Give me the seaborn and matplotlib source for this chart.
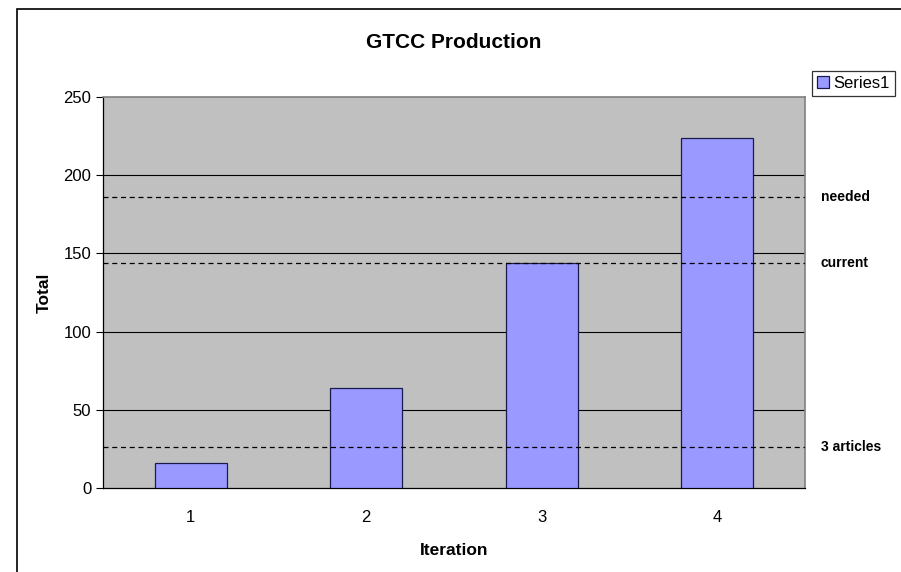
import pandas as pd
import seaborn as sns
import matplotlib.pyplot as plt
from matplotlib.patches import Rectangle

# dados
iterations = ["1", "2", "3", "4"]
totals = [16, 64, 144, 224]
ref_names = ["needed", "current", "3 articles"]
ref_values = [186, 144, 26]

df = pd.DataFrame({"Iteration": iterations, "Total": totals})

sns.set_style("white")
plt.rcParams["font.family"] = ["Liberation Sans", "DejaVu Sans"]
plt.rcParams["text.color"] = "black"
plt.rcParams["axes.labelcolor"] = "black"
plt.rcParams["xtick.color"] = "black"
plt.rcParams["ytick.color"] = "black"

fig = plt.figure(figsize=(9.01, 5.72), dpi=100)
ax = fig.add_axes([103 / 901, (572 - 488) / 572, (805 - 103) / 901, (488 - 97) / 572])

sns.barplot(data=df, x="Iteration", y="Total", color="#9999FF", width=0.41,
            edgecolor="#1a1a4d", linewidth=0.9, saturation=1, label="Series1", ax=ax, zorder=3)

ax.set_facecolor("#C0C0C0")
ax.set_ylim(0, 250)
ax.set_yticks([0, 50, 100, 150, 200, 250])
for v in [50, 100, 150, 200]:
    ax.axhline(v, color="black", linewidth=0.8, zorder=1)

# linhas de referencia
for name, val in zip(ref_names, ref_values):
    ax.axhline(val, color="black", linestyle=(0, (4, 3)), linewidth=0.9, zorder=4)
    ax.annotate(name, xy=(1, val), xycoords=("axes fraction", "data"),
                xytext=(11.5, 0), textcoords="offset points", ha="left", va="center",
                fontsize=10, fontweight="bold", annotation_clip=False)

ax.set_title("GTCC Production", fontsize=15, fontweight="bold", pad=35.5)
ax.set_xlabel("Iteration", fontsize=12.5, fontweight="bold", labelpad=12.5)
ax.set_ylabel("Total", fontsize=12.5, fontweight="bold", labelpad=8)
ax.tick_params(axis="both", labelsize=12, length=5, width=0.8, color="black", direction="out")
ax.tick_params(axis="x", length=0, pad=16)
ax.set_xticks([-0.5, 0.5, 1.5, 2.5, 3.5], minor=True)
ax.tick_params(axis="x", which="minor", length=5, width=0.8, color="black")
ax.tick_params(axis="y", left=True)

for s in ["top", "right"]:
    ax.spines[s].set_color("#808080")
    ax.spines[s].set_linewidth(1.2)
for s in ["left", "bottom"]:
    ax.spines[s].set_color("black")
    ax.spines[s].set_linewidth(0.9)

leg = ax.legend(loc="upper left", bbox_to_anchor=(812 / 901, (572 - 71) / 572),
                bbox_transform=fig.transFigure, fontsize=12, frameon=True, fancybox=False,
                handlelength=0.7, handleheight=0.7, handletextpad=0.3, borderpad=0.3,
                borderaxespad=0)
leg.get_frame().set_edgecolor("black")
leg.get_frame().set_linewidth(0.9)

# borda externa do grafico
fig.patches.append(Rectangle((17 / 901, -0.05), 1.1, (572 - 9) / 572 + 0.05,
                             transform=fig.transFigure, fill=False, edgecolor="black",
                             linewidth=1.2))

fig.savefig("out.png", dpi=100)
